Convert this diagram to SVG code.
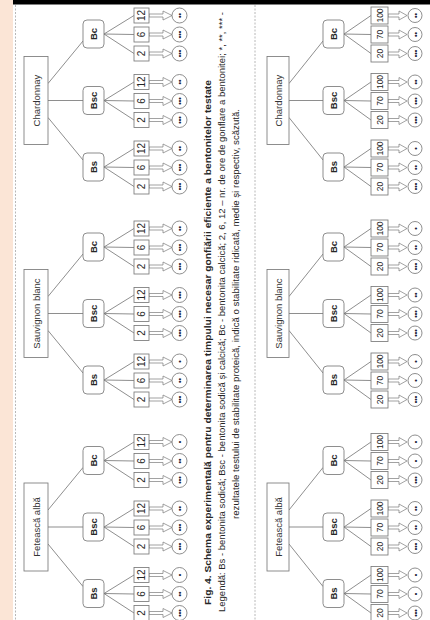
<svg xmlns="http://www.w3.org/2000/svg" xmlns:xlink="http://www.w3.org/1999/xlink" width="430" height="620" viewBox="0 0 430 620">
<style>
text{font-family:"Liberation Sans",Arial,sans-serif;fill:#262626;text-anchor:middle;dominant-baseline:central}
.bx{fill:#fff;stroke:#7a7a7a;stroke-width:0.85}
.ln{stroke:#7a7a7a;stroke-width:0.85;fill:none}
.ar{fill:#fff;stroke:#7a7a7a;stroke-width:0.7}
.ci{fill:#fff;stroke:#7a7a7a;stroke-width:0.85}
.rt{font-size:9.5px;fill:#333}
.ct{font-size:9.5px;font-weight:bold}
.lu{font-size:10px}
.ld{font-size:8.5px}
.dt{font-size:7px;font-weight:bold;fill:#1f1f3a}
.cap{font-size:8.5px;dominant-baseline:alphabetic}
.capb{font-size:9px;font-weight:bold;dominant-baseline:alphabetic}
.dash{stroke:#a6a6a6;stroke-width:0.8;stroke-dasharray:2 1.5}
</style>
<defs>
<polygon id="au" class="ar" points="0,-1.5 14,-1.5 14,-4.5 23,0 14,4.5 14,1.5 0,1.5"/>
<polygon id="ad" class="ar" points="0,-1.5 11,-1.5 11,-4.5 19,0 11,4.5 11,1.5 0,1.5"/>
</defs>
<rect x="0" y="0" width="13" height="620" fill="#fbe5d6"/>
<rect x="13" y="0" width="417" height="4.5" fill="#000"/>
<line class="dash" x1="15.5" y1="5" x2="15.5" y2="620"/>
<line class="dash" x1="255" y1="5" x2="255" y2="620"/>

<g id="connectors">
<path class="ln" d="M48 83.5L83 41M48 100.5H83M48 117.5L83 160M48 296.5L83 254M48 313.5H83M48 330.5L83 373M48 510L83 467.5M48 527H83M48 544L83 586.5"/>
<path class="ln" d="M289 83.5L323 41M289 100.5H323M289 117.5L323 160M289 296.5L323 254M289 313.5H323M289 330.5L323 373M289 510L323 467.5M289 527H323M289 544L323 586.5"/>
<path class="ln" d="M104 34L134 15.5M104 34L134 34.5M104 34L134 53.5M104 100.5L134 82M104 100.5L134 101M104 100.5L134 120M104 167L134 148.5M104 167L134 167.5M104 167L134 186.5M104 247L134 228.5M104 247L134 247.5M104 247L134 266.5M104 313.5L134 295M104 313.5L134 314M104 313.5L134 333M104 380L134 361.5M104 380L134 380.5M104 380L134 399.5M104 460.5L134 442M104 460.5L134 461M104 460.5L134 480M104 527L134 508.5M104 527L134 527.5M104 527L134 546.5M104 593.5L134 575M104 593.5L134 594M104 593.5L134 613"/>
<path class="ln" d="M344 34L371 15.5M344 34L371 34.5M344 34L371 53.5M344 100.5L371 82M344 100.5L371 101M344 100.5L371 120M344 167L371 148.5M344 167L371 167.5M344 167L371 186.5M344 247L371 228.5M344 247L371 247.5M344 247L371 266.5M344 313.5L371 295M344 313.5L371 314M344 313.5L371 333M344 380L371 361.5M344 380L371 380.5M344 380L371 399.5M344 460.5L371 442M344 460.5L371 461M344 460.5L371 480M344 527L371 508.5M344 527L371 527.5M344 527L371 546.5M344 593.5L371 575M344 593.5L371 594M344 593.5L371 613"/>
<use xlink:href="#au" x="149" y="15.5"/><use xlink:href="#au" x="149" y="34.5"/><use xlink:href="#au" x="149" y="53.5"/>
<use xlink:href="#au" x="149" y="82"/><use xlink:href="#au" x="149" y="101"/><use xlink:href="#au" x="149" y="120"/>
<use xlink:href="#au" x="149" y="148.5"/><use xlink:href="#au" x="149" y="167.5"/><use xlink:href="#au" x="149" y="186.5"/>
<use xlink:href="#au" x="149" y="228.5"/><use xlink:href="#au" x="149" y="247.5"/><use xlink:href="#au" x="149" y="266.5"/>
<use xlink:href="#au" x="149" y="295"/><use xlink:href="#au" x="149" y="314"/><use xlink:href="#au" x="149" y="333"/>
<use xlink:href="#au" x="149" y="361.5"/><use xlink:href="#au" x="149" y="380.5"/><use xlink:href="#au" x="149" y="399.5"/>
<use xlink:href="#au" x="149" y="442"/><use xlink:href="#au" x="149" y="461"/><use xlink:href="#au" x="149" y="480"/>
<use xlink:href="#au" x="149" y="508.5"/><use xlink:href="#au" x="149" y="527.5"/><use xlink:href="#au" x="149" y="546.5"/>
<use xlink:href="#au" x="149" y="575"/><use xlink:href="#au" x="149" y="594"/><use xlink:href="#au" x="149" y="613"/>
<use xlink:href="#ad" x="388" y="15.5"/><use xlink:href="#ad" x="388" y="34.5"/><use xlink:href="#ad" x="388" y="53.5"/>
<use xlink:href="#ad" x="388" y="82"/><use xlink:href="#ad" x="388" y="101"/><use xlink:href="#ad" x="388" y="120"/>
<use xlink:href="#ad" x="388" y="148.5"/><use xlink:href="#ad" x="388" y="167.5"/><use xlink:href="#ad" x="388" y="186.5"/>
<use xlink:href="#ad" x="388" y="228.5"/><use xlink:href="#ad" x="388" y="247.5"/><use xlink:href="#ad" x="388" y="266.5"/>
<use xlink:href="#ad" x="388" y="295"/><use xlink:href="#ad" x="388" y="314"/><use xlink:href="#ad" x="388" y="333"/>
<use xlink:href="#ad" x="388" y="361.5"/><use xlink:href="#ad" x="388" y="380.5"/><use xlink:href="#ad" x="388" y="399.5"/>
<use xlink:href="#ad" x="388" y="442"/><use xlink:href="#ad" x="388" y="461"/><use xlink:href="#ad" x="388" y="480"/>
<use xlink:href="#ad" x="388" y="508.5"/><use xlink:href="#ad" x="388" y="527.5"/><use xlink:href="#ad" x="388" y="546.5"/>
<use xlink:href="#ad" x="388" y="575"/><use xlink:href="#ad" x="388" y="594"/><use xlink:href="#ad" x="388" y="613"/>
</g>

<!-- upper diagram: roots -->
<g id="u-chardonnay"><rect class="bx" x="24" y="56.5" width="24" height="88"/><text class="rt" x="36" y="100.5" transform="rotate(-90 36 100.5)">Chardonnay</text></g>
<g id="u-sauvignon"><rect class="bx" x="24" y="269.5" width="24" height="88"/><text class="rt" x="36" y="313.5" transform="rotate(-90 36 313.5)">Sauvignon blanc</text></g>
<g id="u-feteasca"><rect class="bx" x="24" y="483" width="24" height="88"/><text class="rt" x="36" y="527" transform="rotate(-90 36 527)">Fetească albă</text></g>
<!-- upper children -->
<g id="u-char-bc"><rect class="bx" x="83" y="20" width="21" height="28" rx="4"/><text class="ct" x="93.5" y="34" transform="rotate(-90 93.5 34)">Bc</text></g>
<g id="u-char-bsc"><rect class="bx" x="83" y="86.5" width="21" height="28" rx="4"/><text class="ct" x="93.5" y="100.5" transform="rotate(-90 93.5 100.5)">Bsc</text></g>
<g id="u-char-bs"><rect class="bx" x="83" y="153" width="21" height="28" rx="4"/><text class="ct" x="93.5" y="167" transform="rotate(-90 93.5 167)">Bs</text></g>
<g id="u-sauv-bc"><rect class="bx" x="83" y="233" width="21" height="28" rx="4"/><text class="ct" x="93.5" y="247" transform="rotate(-90 93.5 247)">Bc</text></g>
<g id="u-sauv-bsc"><rect class="bx" x="83" y="299.5" width="21" height="28" rx="4"/><text class="ct" x="93.5" y="313.5" transform="rotate(-90 93.5 313.5)">Bsc</text></g>
<g id="u-sauv-bs"><rect class="bx" x="83" y="366" width="21" height="28" rx="4"/><text class="ct" x="93.5" y="380" transform="rotate(-90 93.5 380)">Bs</text></g>
<g id="u-fet-bc"><rect class="bx" x="83" y="446.5" width="21" height="28" rx="4"/><text class="ct" x="93.5" y="460.5" transform="rotate(-90 93.5 460.5)">Bc</text></g>
<g id="u-fet-bsc"><rect class="bx" x="83" y="513" width="21" height="28" rx="4"/><text class="ct" x="93.5" y="527" transform="rotate(-90 93.5 527)">Bsc</text></g>
<g id="u-fet-bs"><rect class="bx" x="83" y="579.5" width="21" height="28" rx="4"/><text class="ct" x="93.5" y="593.5" transform="rotate(-90 93.5 593.5)">Bs</text></g>
<!-- upper leaves -->
<g id="u-char-bc-12"><rect class="bx" x="134" y="8" width="15" height="15"/><text class="lu" x="141.5" y="15.5" transform="rotate(-90 141.5 15.5)">12</text></g>
<g id="u-char-bc-6"><rect class="bx" x="134" y="27" width="15" height="15"/><text class="lu" x="141.5" y="34.5" transform="rotate(-90 141.5 34.5)">6</text></g>
<g id="u-char-bc-2"><rect class="bx" x="134" y="46" width="15" height="15"/><text class="lu" x="141.5" y="53.5" transform="rotate(-90 141.5 53.5)">2</text></g>
<g id="u-char-bsc-12"><rect class="bx" x="134" y="74.5" width="15" height="15"/><text class="lu" x="141.5" y="82" transform="rotate(-90 141.5 82)">12</text></g>
<g id="u-char-bsc-6"><rect class="bx" x="134" y="93.5" width="15" height="15"/><text class="lu" x="141.5" y="101" transform="rotate(-90 141.5 101)">6</text></g>
<g id="u-char-bsc-2"><rect class="bx" x="134" y="112.5" width="15" height="15"/><text class="lu" x="141.5" y="120" transform="rotate(-90 141.5 120)">2</text></g>
<g id="u-char-bs-12"><rect class="bx" x="134" y="141" width="15" height="15"/><text class="lu" x="141.5" y="148.5" transform="rotate(-90 141.5 148.5)">12</text></g>
<g id="u-char-bs-6"><rect class="bx" x="134" y="160" width="15" height="15"/><text class="lu" x="141.5" y="167.5" transform="rotate(-90 141.5 167.5)">6</text></g>
<g id="u-char-bs-2"><rect class="bx" x="134" y="179" width="15" height="15"/><text class="lu" x="141.5" y="186.5" transform="rotate(-90 141.5 186.5)">2</text></g>
<g id="u-sauv-bc-12"><rect class="bx" x="134" y="221" width="15" height="15"/><text class="lu" x="141.5" y="228.5" transform="rotate(-90 141.5 228.5)">12</text></g>
<g id="u-sauv-bc-6"><rect class="bx" x="134" y="240" width="15" height="15"/><text class="lu" x="141.5" y="247.5" transform="rotate(-90 141.5 247.5)">6</text></g>
<g id="u-sauv-bc-2"><rect class="bx" x="134" y="259" width="15" height="15"/><text class="lu" x="141.5" y="266.5" transform="rotate(-90 141.5 266.5)">2</text></g>
<g id="u-sauv-bsc-12"><rect class="bx" x="134" y="287.5" width="15" height="15"/><text class="lu" x="141.5" y="295" transform="rotate(-90 141.5 295)">12</text></g>
<g id="u-sauv-bsc-6"><rect class="bx" x="134" y="306.5" width="15" height="15"/><text class="lu" x="141.5" y="314" transform="rotate(-90 141.5 314)">6</text></g>
<g id="u-sauv-bsc-2"><rect class="bx" x="134" y="325.5" width="15" height="15"/><text class="lu" x="141.5" y="333" transform="rotate(-90 141.5 333)">2</text></g>
<g id="u-sauv-bs-12"><rect class="bx" x="134" y="354" width="15" height="15"/><text class="lu" x="141.5" y="361.5" transform="rotate(-90 141.5 361.5)">12</text></g>
<g id="u-sauv-bs-6"><rect class="bx" x="134" y="373" width="15" height="15"/><text class="lu" x="141.5" y="380.5" transform="rotate(-90 141.5 380.5)">6</text></g>
<g id="u-sauv-bs-2"><rect class="bx" x="134" y="392" width="15" height="15"/><text class="lu" x="141.5" y="399.5" transform="rotate(-90 141.5 399.5)">2</text></g>
<g id="u-fet-bc-12"><rect class="bx" x="134" y="434.5" width="15" height="15"/><text class="lu" x="141.5" y="442" transform="rotate(-90 141.5 442)">12</text></g>
<g id="u-fet-bc-6"><rect class="bx" x="134" y="453.5" width="15" height="15"/><text class="lu" x="141.5" y="461" transform="rotate(-90 141.5 461)">6</text></g>
<g id="u-fet-bc-2"><rect class="bx" x="134" y="472.5" width="15" height="15"/><text class="lu" x="141.5" y="480" transform="rotate(-90 141.5 480)">2</text></g>
<g id="u-fet-bsc-12"><rect class="bx" x="134" y="501" width="15" height="15"/><text class="lu" x="141.5" y="508.5" transform="rotate(-90 141.5 508.5)">12</text></g>
<g id="u-fet-bsc-6"><rect class="bx" x="134" y="520" width="15" height="15"/><text class="lu" x="141.5" y="527.5" transform="rotate(-90 141.5 527.5)">6</text></g>
<g id="u-fet-bsc-2"><rect class="bx" x="134" y="539" width="15" height="15"/><text class="lu" x="141.5" y="546.5" transform="rotate(-90 141.5 546.5)">2</text></g>
<g id="u-fet-bs-12"><rect class="bx" x="134" y="567.5" width="15" height="15"/><text class="lu" x="141.5" y="575" transform="rotate(-90 141.5 575)">12</text></g>
<g id="u-fet-bs-6"><rect class="bx" x="134" y="586.5" width="15" height="15"/><text class="lu" x="141.5" y="594" transform="rotate(-90 141.5 594)">6</text></g>
<g id="u-fet-bs-2"><rect class="bx" x="134" y="605.5" width="15" height="15"/><text class="lu" x="141.5" y="613" transform="rotate(-90 141.5 613)">2</text></g>
<!-- upper results -->
<g id="u-res-1"><circle class="ci" cx="179.5" cy="15.5" r="7.5"/><text class="dt" x="179.5" y="15.5" transform="rotate(-90 179.5 15.5)">••</text></g>
<g id="u-res-2"><circle class="ci" cx="179.5" cy="34.5" r="7.5"/><text class="dt" x="179.5" y="34.5" transform="rotate(-90 179.5 34.5)">•••</text></g>
<g id="u-res-3"><circle class="ci" cx="179.5" cy="53.5" r="7.5"/><text class="dt" x="179.5" y="53.5" transform="rotate(-90 179.5 53.5)">•••</text></g>
<g id="u-res-4"><circle class="ci" cx="179.5" cy="82" r="7.5"/><text class="dt" x="179.5" y="82" transform="rotate(-90 179.5 82)">••</text></g>
<g id="u-res-5"><circle class="ci" cx="179.5" cy="101" r="7.5"/><text class="dt" x="179.5" y="101" transform="rotate(-90 179.5 101)">•••</text></g>
<g id="u-res-6"><circle class="ci" cx="179.5" cy="120" r="7.5"/><text class="dt" x="179.5" y="120" transform="rotate(-90 179.5 120)">•••</text></g>
<g id="u-res-7"><circle class="ci" cx="179.5" cy="148.5" r="7.5"/><text class="dt" x="179.5" y="148.5" transform="rotate(-90 179.5 148.5)">••</text></g>
<g id="u-res-8"><circle class="ci" cx="179.5" cy="167.5" r="7.5"/><text class="dt" x="179.5" y="167.5" transform="rotate(-90 179.5 167.5)">•••</text></g>
<g id="u-res-9"><circle class="ci" cx="179.5" cy="186.5" r="7.5"/><text class="dt" x="179.5" y="186.5" transform="rotate(-90 179.5 186.5)">•••</text></g>
<g id="u-res-10"><circle class="ci" cx="179.5" cy="228.5" r="7.5"/><text class="dt" x="179.5" y="228.5" transform="rotate(-90 179.5 228.5)">••</text></g>
<g id="u-res-11"><circle class="ci" cx="179.5" cy="247.5" r="7.5"/><text class="dt" x="179.5" y="247.5" transform="rotate(-90 179.5 247.5)">•••</text></g>
<g id="u-res-12"><circle class="ci" cx="179.5" cy="266.5" r="7.5"/><text class="dt" x="179.5" y="266.5" transform="rotate(-90 179.5 266.5)">•••</text></g>
<g id="u-res-13"><circle class="ci" cx="179.5" cy="295" r="7.5"/><text class="dt" x="179.5" y="295" transform="rotate(-90 179.5 295)">•••</text></g>
<g id="u-res-14"><circle class="ci" cx="179.5" cy="314" r="7.5"/><text class="dt" x="179.5" y="314" transform="rotate(-90 179.5 314)">•••</text></g>
<g id="u-res-15"><circle class="ci" cx="179.5" cy="333" r="7.5"/><text class="dt" x="179.5" y="333" transform="rotate(-90 179.5 333)">•••</text></g>
<g id="u-res-16"><circle class="ci" cx="179.5" cy="361.5" r="7.5"/><text class="dt" x="179.5" y="361.5" transform="rotate(-90 179.5 361.5)">•</text></g>
<g id="u-res-17"><circle class="ci" cx="179.5" cy="380.5" r="7.5"/><text class="dt" x="179.5" y="380.5" transform="rotate(-90 179.5 380.5)">••</text></g>
<g id="u-res-18"><circle class="ci" cx="179.5" cy="399.5" r="7.5"/><text class="dt" x="179.5" y="399.5" transform="rotate(-90 179.5 399.5)">•••</text></g>
<g id="u-res-19"><circle class="ci" cx="179.5" cy="442" r="7.5"/><text class="dt" x="179.5" y="442" transform="rotate(-90 179.5 442)">•</text></g>
<g id="u-res-20"><circle class="ci" cx="179.5" cy="461" r="7.5"/><text class="dt" x="179.5" y="461" transform="rotate(-90 179.5 461)">••</text></g>
<g id="u-res-21"><circle class="ci" cx="179.5" cy="480" r="7.5"/><text class="dt" x="179.5" y="480" transform="rotate(-90 179.5 480)">•••</text></g>
<g id="u-res-22"><circle class="ci" cx="179.5" cy="508.5" r="7.5"/><text class="dt" x="179.5" y="508.5" transform="rotate(-90 179.5 508.5)">••</text></g>
<g id="u-res-23"><circle class="ci" cx="179.5" cy="527.5" r="7.5"/><text class="dt" x="179.5" y="527.5" transform="rotate(-90 179.5 527.5)">•••</text></g>
<g id="u-res-24"><circle class="ci" cx="179.5" cy="546.5" r="7.5"/><text class="dt" x="179.5" y="546.5" transform="rotate(-90 179.5 546.5)">•••</text></g>
<g id="u-res-25"><circle class="ci" cx="179.5" cy="575" r="7.5"/><text class="dt" x="179.5" y="575" transform="rotate(-90 179.5 575)">•</text></g>
<g id="u-res-26"><circle class="ci" cx="179.5" cy="594" r="7.5"/><text class="dt" x="179.5" y="594" transform="rotate(-90 179.5 594)">••</text></g>
<g id="u-res-27"><circle class="ci" cx="179.5" cy="613" r="7.5"/><text class="dt" x="179.5" y="613" transform="rotate(-90 179.5 613)">•••</text></g>

<!-- caption -->
<g id="caption">
<text class="capb" x="210.5" y="342.5" transform="rotate(-90 210.5 342.5)" textLength="525" lengthAdjust="spacingAndGlyphs">Fig. 4. Schema experimentală pentru determinarea timpului necesar gonfiării eficiente a bentonitelor testate</text>
<text class="cap" x="224.5" y="312" transform="rotate(-90 224.5 312)" textLength="600" lengthAdjust="spacingAndGlyphs">Legendă: Bs - bentonita sodică; Bsc - bentonita sodică și calcică; Bc - bentonita calcică; 2, 6, 12 – nr. de ore de gonflare a bentonitei; *, **, *** -</text>
<text class="cap" x="239" y="314" transform="rotate(-90 239 314)" textLength="410" lengthAdjust="spacingAndGlyphs">rezultatele testului de stabilitate proteică, indică o stabilitate ridicată, medie și respectiv, scăzută.</text>
</g>

<!-- lower diagram: roots -->
<g id="d-chardonnay"><rect class="bx" x="267" y="56.5" width="22" height="88"/><text class="rt" x="278" y="100.5" transform="rotate(-90 278 100.5)">Chardonnay</text></g>
<g id="d-sauvignon"><rect class="bx" x="267" y="269.5" width="22" height="88"/><text class="rt" x="278" y="313.5" transform="rotate(-90 278 313.5)">Sauvignon blanc</text></g>
<g id="d-feteasca"><rect class="bx" x="267" y="483" width="22" height="88"/><text class="rt" x="278" y="527" transform="rotate(-90 278 527)">Fetească albă</text></g>
<!-- lower children -->
<g id="d-char-bc"><rect class="bx" x="323" y="20" width="21" height="28" rx="4"/><text class="ct" x="333.5" y="34" transform="rotate(-90 333.5 34)">Bc</text></g>
<g id="d-char-bsc"><rect class="bx" x="323" y="86.5" width="21" height="28" rx="4"/><text class="ct" x="333.5" y="100.5" transform="rotate(-90 333.5 100.5)">Bsc</text></g>
<g id="d-char-bs"><rect class="bx" x="323" y="153" width="21" height="28" rx="4"/><text class="ct" x="333.5" y="167" transform="rotate(-90 333.5 167)">Bs</text></g>
<g id="d-sauv-bc"><rect class="bx" x="323" y="233" width="21" height="28" rx="4"/><text class="ct" x="333.5" y="247" transform="rotate(-90 333.5 247)">Bc</text></g>
<g id="d-sauv-bsc"><rect class="bx" x="323" y="299.5" width="21" height="28" rx="4"/><text class="ct" x="333.5" y="313.5" transform="rotate(-90 333.5 313.5)">Bsc</text></g>
<g id="d-sauv-bs"><rect class="bx" x="323" y="366" width="21" height="28" rx="4"/><text class="ct" x="333.5" y="380" transform="rotate(-90 333.5 380)">Bs</text></g>
<g id="d-fet-bc"><rect class="bx" x="323" y="446.5" width="21" height="28" rx="4"/><text class="ct" x="333.5" y="460.5" transform="rotate(-90 333.5 460.5)">Bc</text></g>
<g id="d-fet-bsc"><rect class="bx" x="323" y="513" width="21" height="28" rx="4"/><text class="ct" x="333.5" y="527" transform="rotate(-90 333.5 527)">Bsc</text></g>
<g id="d-fet-bs"><rect class="bx" x="323" y="579.5" width="21" height="28" rx="4"/><text class="ct" x="333.5" y="593.5" transform="rotate(-90 333.5 593.5)">Bs</text></g>
<!-- lower leaves -->
<g id="d-char-bc-100"><rect class="bx" x="371" y="7" width="17" height="17"/><text class="ld" x="379.5" y="15.5" transform="rotate(-90 379.5 15.5)">100</text></g>
<g id="d-char-bc-70"><rect class="bx" x="371" y="26" width="17" height="17"/><text class="ld" x="379.5" y="34.5" transform="rotate(-90 379.5 34.5)">70</text></g>
<g id="d-char-bc-20"><rect class="bx" x="371" y="45" width="17" height="17"/><text class="ld" x="379.5" y="53.5" transform="rotate(-90 379.5 53.5)">20</text></g>
<g id="d-char-bsc-100"><rect class="bx" x="371" y="73.5" width="17" height="17"/><text class="ld" x="379.5" y="82" transform="rotate(-90 379.5 82)">100</text></g>
<g id="d-char-bsc-70"><rect class="bx" x="371" y="92.5" width="17" height="17"/><text class="ld" x="379.5" y="101" transform="rotate(-90 379.5 101)">70</text></g>
<g id="d-char-bsc-20"><rect class="bx" x="371" y="111.5" width="17" height="17"/><text class="ld" x="379.5" y="120" transform="rotate(-90 379.5 120)">20</text></g>
<g id="d-char-bs-100"><rect class="bx" x="371" y="140" width="17" height="17"/><text class="ld" x="379.5" y="148.5" transform="rotate(-90 379.5 148.5)">100</text></g>
<g id="d-char-bs-70"><rect class="bx" x="371" y="159" width="17" height="17"/><text class="ld" x="379.5" y="167.5" transform="rotate(-90 379.5 167.5)">70</text></g>
<g id="d-char-bs-20"><rect class="bx" x="371" y="178" width="17" height="17"/><text class="ld" x="379.5" y="186.5" transform="rotate(-90 379.5 186.5)">20</text></g>
<g id="d-sauv-bc-100"><rect class="bx" x="371" y="220" width="17" height="17"/><text class="ld" x="379.5" y="228.5" transform="rotate(-90 379.5 228.5)">100</text></g>
<g id="d-sauv-bc-70"><rect class="bx" x="371" y="239" width="17" height="17"/><text class="ld" x="379.5" y="247.5" transform="rotate(-90 379.5 247.5)">70</text></g>
<g id="d-sauv-bc-20"><rect class="bx" x="371" y="258" width="17" height="17"/><text class="ld" x="379.5" y="266.5" transform="rotate(-90 379.5 266.5)">20</text></g>
<g id="d-sauv-bsc-100"><rect class="bx" x="371" y="286.5" width="17" height="17"/><text class="ld" x="379.5" y="295" transform="rotate(-90 379.5 295)">100</text></g>
<g id="d-sauv-bsc-70"><rect class="bx" x="371" y="305.5" width="17" height="17"/><text class="ld" x="379.5" y="314" transform="rotate(-90 379.5 314)">70</text></g>
<g id="d-sauv-bsc-20"><rect class="bx" x="371" y="324.5" width="17" height="17"/><text class="ld" x="379.5" y="333" transform="rotate(-90 379.5 333)">20</text></g>
<g id="d-sauv-bs-100"><rect class="bx" x="371" y="353" width="17" height="17"/><text class="ld" x="379.5" y="361.5" transform="rotate(-90 379.5 361.5)">100</text></g>
<g id="d-sauv-bs-70"><rect class="bx" x="371" y="372" width="17" height="17"/><text class="ld" x="379.5" y="380.5" transform="rotate(-90 379.5 380.5)">70</text></g>
<g id="d-sauv-bs-20"><rect class="bx" x="371" y="391" width="17" height="17"/><text class="ld" x="379.5" y="399.5" transform="rotate(-90 379.5 399.5)">20</text></g>
<g id="d-fet-bc-100"><rect class="bx" x="371" y="433.5" width="17" height="17"/><text class="ld" x="379.5" y="442" transform="rotate(-90 379.5 442)">100</text></g>
<g id="d-fet-bc-70"><rect class="bx" x="371" y="452.5" width="17" height="17"/><text class="ld" x="379.5" y="461" transform="rotate(-90 379.5 461)">70</text></g>
<g id="d-fet-bc-20"><rect class="bx" x="371" y="471.5" width="17" height="17"/><text class="ld" x="379.5" y="480" transform="rotate(-90 379.5 480)">20</text></g>
<g id="d-fet-bsc-100"><rect class="bx" x="371" y="500" width="17" height="17"/><text class="ld" x="379.5" y="508.5" transform="rotate(-90 379.5 508.5)">100</text></g>
<g id="d-fet-bsc-70"><rect class="bx" x="371" y="519" width="17" height="17"/><text class="ld" x="379.5" y="527.5" transform="rotate(-90 379.5 527.5)">70</text></g>
<g id="d-fet-bsc-20"><rect class="bx" x="371" y="538" width="17" height="17"/><text class="ld" x="379.5" y="546.5" transform="rotate(-90 379.5 546.5)">20</text></g>
<g id="d-fet-bs-100"><rect class="bx" x="371" y="566.5" width="17" height="17"/><text class="ld" x="379.5" y="575" transform="rotate(-90 379.5 575)">100</text></g>
<g id="d-fet-bs-70"><rect class="bx" x="371" y="585.5" width="17" height="17"/><text class="ld" x="379.5" y="594" transform="rotate(-90 379.5 594)">70</text></g>
<g id="d-fet-bs-20"><rect class="bx" x="371" y="604.5" width="17" height="17"/><text class="ld" x="379.5" y="613" transform="rotate(-90 379.5 613)">20</text></g>
<!-- lower results -->
<g id="d-res-1"><circle class="ci" cx="415" cy="15.5" r="7"/><text class="dt" x="415" y="15.5" transform="rotate(-90 415 15.5)">••</text></g>
<g id="d-res-2"><circle class="ci" cx="415" cy="34.5" r="7"/><text class="dt" x="415" y="34.5" transform="rotate(-90 415 34.5)">••</text></g>
<g id="d-res-3"><circle class="ci" cx="415" cy="53.5" r="7"/><text class="dt" x="415" y="53.5" transform="rotate(-90 415 53.5)">•••</text></g>
<g id="d-res-4"><circle class="ci" cx="415" cy="82" r="7"/><text class="dt" x="415" y="82" transform="rotate(-90 415 82)">••</text></g>
<g id="d-res-5"><circle class="ci" cx="415" cy="101" r="7"/><text class="dt" x="415" y="101" transform="rotate(-90 415 101)">•••</text></g>
<g id="d-res-6"><circle class="ci" cx="415" cy="120" r="7"/><text class="dt" x="415" y="120" transform="rotate(-90 415 120)">•••</text></g>
<g id="d-res-7"><circle class="ci" cx="415" cy="148.5" r="7"/><text class="dt" x="415" y="148.5" transform="rotate(-90 415 148.5)">•</text></g>
<g id="d-res-8"><circle class="ci" cx="415" cy="167.5" r="7"/><text class="dt" x="415" y="167.5" transform="rotate(-90 415 167.5)">••</text></g>
<g id="d-res-9"><circle class="ci" cx="415" cy="186.5" r="7"/><text class="dt" x="415" y="186.5" transform="rotate(-90 415 186.5)">•••</text></g>
<g id="d-res-10"><circle class="ci" cx="415" cy="228.5" r="7"/><text class="dt" x="415" y="228.5" transform="rotate(-90 415 228.5)">•</text></g>
<g id="d-res-11"><circle class="ci" cx="415" cy="247.5" r="7"/><text class="dt" x="415" y="247.5" transform="rotate(-90 415 247.5)">••</text></g>
<g id="d-res-12"><circle class="ci" cx="415" cy="266.5" r="7"/><text class="dt" x="415" y="266.5" transform="rotate(-90 415 266.5)">•••</text></g>
<g id="d-res-13"><circle class="ci" cx="415" cy="295" r="7"/><text class="dt" x="415" y="295" transform="rotate(-90 415 295)">••</text></g>
<g id="d-res-14"><circle class="ci" cx="415" cy="314" r="7"/><text class="dt" x="415" y="314" transform="rotate(-90 415 314)">•••</text></g>
<g id="d-res-15"><circle class="ci" cx="415" cy="333" r="7"/><text class="dt" x="415" y="333" transform="rotate(-90 415 333)">•••</text></g>
<g id="d-res-16"><circle class="ci" cx="415" cy="361.5" r="7"/><text class="dt" x="415" y="361.5" transform="rotate(-90 415 361.5)">•</text></g>
<g id="d-res-17"><circle class="ci" cx="415" cy="380.5" r="7"/><text class="dt" x="415" y="380.5" transform="rotate(-90 415 380.5)">•</text></g>
<g id="d-res-18"><circle class="ci" cx="415" cy="399.5" r="7"/><text class="dt" x="415" y="399.5" transform="rotate(-90 415 399.5)">•••</text></g>
<g id="d-res-19"><circle class="ci" cx="415" cy="442" r="7"/><text class="dt" x="415" y="442" transform="rotate(-90 415 442)">•</text></g>
<g id="d-res-20"><circle class="ci" cx="415" cy="461" r="7"/><text class="dt" x="415" y="461" transform="rotate(-90 415 461)">•</text></g>
<g id="d-res-21"><circle class="ci" cx="415" cy="480" r="7"/><text class="dt" x="415" y="480" transform="rotate(-90 415 480)">•••</text></g>
<g id="d-res-22"><circle class="ci" cx="415" cy="508.5" r="7"/><text class="dt" x="415" y="508.5" transform="rotate(-90 415 508.5)">••</text></g>
<g id="d-res-23"><circle class="ci" cx="415" cy="527.5" r="7"/><text class="dt" x="415" y="527.5" transform="rotate(-90 415 527.5)">••</text></g>
<g id="d-res-24"><circle class="ci" cx="415" cy="546.5" r="7"/><text class="dt" x="415" y="546.5" transform="rotate(-90 415 546.5)">•••</text></g>
<g id="d-res-25"><circle class="ci" cx="415" cy="575" r="7"/><text class="dt" x="415" y="575" transform="rotate(-90 415 575)">•</text></g>
<g id="d-res-26"><circle class="ci" cx="415" cy="594" r="7"/><text class="dt" x="415" y="594" transform="rotate(-90 415 594)">•</text></g>
<g id="d-res-27"><circle class="ci" cx="415" cy="613" r="7"/><text class="dt" x="415" y="613" transform="rotate(-90 415 613)">•••</text></g>
</svg>
